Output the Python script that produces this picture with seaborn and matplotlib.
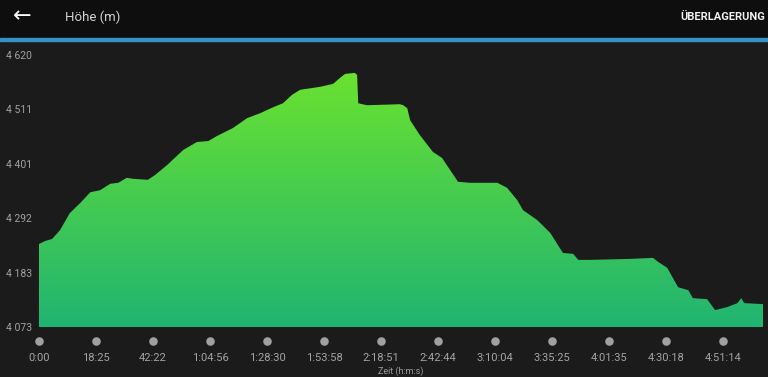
import matplotlib
matplotlib.use('Agg')
import matplotlib.pyplot as plt
import matplotlib.patches as mpatches
import matplotlib.transforms as mtransforms
import numpy as np
import pandas as pd
import seaborn as sns

# elevation profile (x in tick units along the track, elevation in m)
distance = [0.00, 0.11, 0.23, 0.37, 0.54, 0.72, 0.90, 1.07, 1.25, 1.39, 1.54, 1.65,
            1.91, 2.04, 2.25, 2.53, 2.77, 2.97, 3.12, 3.40, 3.65, 3.88, 4.11, 4.28,
            4.44, 4.58, 4.93, 5.16, 5.28, 5.37, 5.54, 5.58, 5.60, 5.75, 6.33, 6.39,
            6.46, 6.51, 6.68, 6.91, 7.07, 7.21, 7.35, 7.56, 8.04, 8.21, 8.39, 8.49,
            8.74, 8.97, 9.19, 9.37, 9.46, 9.67, 10.37, 10.77, 10.86, 11.02, 11.21,
            11.39, 11.47, 11.72, 11.86, 12.07, 12.25, 12.32, 12.37, 12.70]
elevation = [4240, 4246, 4250, 4268, 4302, 4322, 4344, 4348, 4361, 4363, 4373, 4371,
             4369, 4379, 4399, 4429, 4445, 4447, 4457, 4473, 4493, 4503, 4515, 4523,
             4540, 4550, 4556, 4562, 4574, 4582, 4584, 4580, 4523, 4519, 4521, 4519,
             4513, 4489, 4459, 4425, 4413, 4389, 4365, 4363, 4363, 4353, 4328, 4308,
             4288, 4262, 4222, 4220, 4208, 4208, 4210, 4212, 4204, 4192, 4153,
             4147, 4131, 4129, 4107, 4113, 4121, 4131, 4121, 4119]

y_min, y_max = 4073, 4620
y_labels = ['4 073', '4 183', '4 292', '4 401', '4 511', '4 620']
time_labels = ['0:00', '18:25', '42:22', '1:04:56', '1:28:30', '1:53:58', '2:18:51',
               '2:42:44', '3:10:04', '3:35:25', '4:01:35', '4:30:18', '4:51:14']

df = pd.DataFrame({'distance': distance, 'elevation': elevation})

sns.set_style('dark')
plt.rcParams['font.family'] = ['Roboto', 'DejaVu Sans']

bg = '#1b1b1b'
fig = plt.figure(figsize=(7.68, 3.77), dpi=100, facecolor=bg)

# header bar and blue separator
fig.patches.append(mpatches.Rectangle((0, 1 - 38 / 377), 1, 38 / 377, transform=fig.transFigure,
                                      color='#0e0e0e', zorder=0))
fig.patches.append(mpatches.Rectangle((0, 1 - 40.5 / 377), 1, 2.5 / 377, transform=fig.transFigure,
                                      color='#3a8fc6', zorder=1))
fig.text(22 / 768, 1 - 16 / 377, '\u2190', color='white', fontsize=16,
         ha='center', va='center', family=['DejaVu Sans'])
fig.text(65 / 768, 1 - 17 / 377, 'Höhe (m)', color='#d2d2d2', fontsize=9.5,
         ha='left', va='center')
fig.text(765 / 768, 1 - 17 / 377, 'ÜBERLAGERUNG', color='#f0f0f0', fontsize=8,
         fontweight='bold', ha='right', va='center')

ax = fig.add_axes([39 / 768, 50 / 377, 724 / 768, 272 / 377])
ax.set_facecolor(bg)

sns.lineplot(data=df, x='distance', y='elevation', ax=ax, linewidth=0, color='#6ee52c')
poly = ax.fill_between(df['distance'], df['elevation'], y_min, color='none', linewidth=0)

# vertical green gradient clipped to the profile area
cmap = matplotlib.colors.LinearSegmentedColormap.from_list('elev', ['#20b472', '#6fe52b'])
grad = np.linspace(0, 1, 256).reshape(-1, 1)
im = ax.imshow(grad, cmap=cmap, aspect='auto', origin='lower',
               extent=[0, max(distance), y_min, y_max], zorder=2)
im.set_clip_path(poly.get_paths()[0], transform=ax.transData)

ax.set_xlim(0, max(distance))
ax.set_ylim(y_min, y_max)
ax.grid(False)
for s in ax.spines.values():
    s.set_visible(False)

ax.set_yticks(np.linspace(y_min, y_max, len(y_labels)))
ax.set_yticklabels(y_labels)
ax.set_xticks(range(len(time_labels)))
ax.set_xticklabels(time_labels)
ax.tick_params(axis='y', length=0, pad=5, labelsize=7.5, labelcolor='#a2a2a2')
ax.tick_params(axis='x', length=0, pad=19, labelsize=8, labelcolor='#a4a4a4')
ax.set_xlabel('Zeit (h:m:s)', color='#9c9c9c', fontsize=6.5, labelpad=2)
ax.set_ylabel('')

# grey dots above the time labels
trans = mtransforms.blended_transform_factory(ax.transData, ax.transAxes)
ax.scatter(range(len(time_labels)), [-14 / 272] * len(time_labels), s=38, color='#a0a0a0',
           transform=trans, clip_on=False, linewidths=0, zorder=3)

fig.savefig('out.png', dpi=100, facecolor=bg)
